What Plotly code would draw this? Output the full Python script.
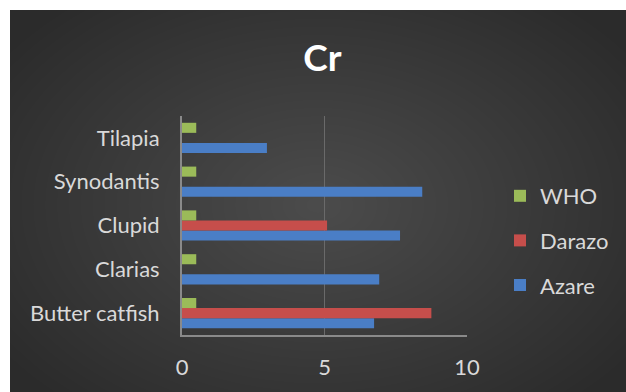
import plotly.graph_objects as go

categories = ["Butter catfish", "Clarias", "Clupid", "Synodantis", "Tilapia"]
azare = [6.74, 6.92, 7.65, 8.43, 2.98]
darazo = [8.75, 0, 5.09, 0, 0]
who = [0.5, 0.5, 0.5, 0.5, 0.5]
x_ticks = [0, 5, 10]

W, H = 626, 392
L, R, T, B = 182, 159, 116, 57
pw, ph = W - L - R, H - T - B

def px2x(p):
    return (p - L) / pw

def py2y(p):
    return (H - B - p) / ph

fig = go.Figure()
fig.add_trace(go.Bar(y=categories, x=azare, name="Azare", orientation="h",
                     marker=dict(color="#4a7ec6", line_width=0), legendgroup="a", legendrank=3))
fig.add_trace(go.Bar(y=categories, x=darazo, name="Darazo", orientation="h",
                     marker=dict(color="#c64e4b", line_width=0), legendgroup="b", legendrank=2))
fig.add_trace(go.Bar(y=categories, x=who, name="WHO", orientation="h",
                     marker=dict(color="#9bbb59", line_width=0), legendgroup="c", legendrank=1))

shapes = [dict(type="rect", xref="paper", yref="paper", layer="below",
               x0=px2x(10), x1=px2x(W + 5), y0=py2y(10), y1=py2y(H + 5),
               fillcolor="#2b2b2b", line_width=0)]
cx, cy = 318, 205
n = 32
for i in range(n):
    f = 1 - i / n
    rx, ry = 380 * f, 260 * f
    shapes.append(dict(type="circle", xref="paper", yref="paper", layer="below",
                       x0=px2x(cx - rx), x1=px2x(cx + rx),
                       y0=py2y(cy + ry), y1=py2y(cy - ry),
                       fillcolor="rgba(255,255,255,0.008)", line_width=0))

fig.update_layout(
    width=W, height=H,
    margin=dict(l=L, r=R, t=T, b=B, autoexpand=False),
    paper_bgcolor="white", plot_bgcolor="rgba(0,0,0,0)",
    barmode="group", bargap=0.31, bargroupgap=0,
    font=dict(family="Lato, Open Sans, sans-serif", color="#d9d9d9", size=22),
    title=dict(text="<b>Cr</b>", x=0.515, xref="container", y=1 - 58 / H,
               yanchor="middle", xanchor="center",
               font=dict(size=37, color="white", family="Lato, Open Sans, sans-serif")),
    legend=dict(x=px2x(500), y=py2y(175), xanchor="left", yanchor="top",
                traceorder="grouped", tracegroupgap=13,
                font=dict(size=22, color="#d9d9d9"), bgcolor="rgba(0,0,0,0)"),
    shapes=shapes,
    showlegend=True,
)
fig.update_xaxes(range=[0, 10], tickvals=x_ticks, showgrid=True, gridcolor="#6a6a6a",
                 gridwidth=1, zeroline=False, showline=True, linecolor="#8a8a8a",
                 linewidth=2, ticks="", ticklabelstandoff=12, fixedrange=True)
fig.update_yaxes(showgrid=False, zeroline=False, showline=True, linecolor="#8a8a8a",
                 linewidth=2, ticks="", ticklabelstandoff=16, fixedrange=True)

fig.write_html("out.html")
